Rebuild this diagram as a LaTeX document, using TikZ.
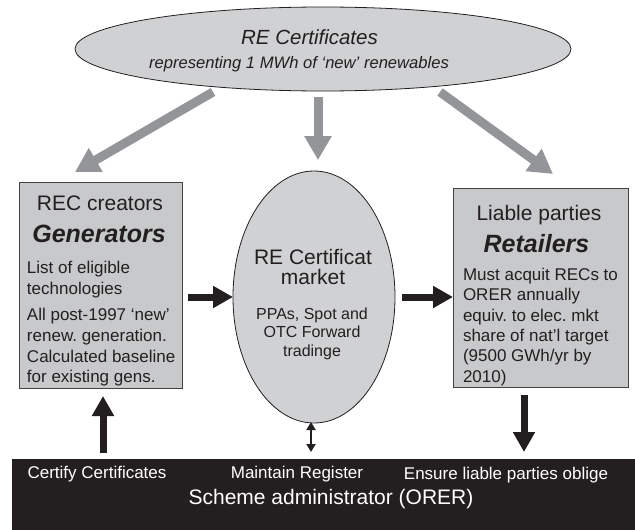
\documentclass[tikz,border=0pt]{standalone}
\usepackage{fontspec}
\setmainfont{Liberation Sans}
\usetikzlibrary{shapes.geometric,arrows.meta}
\definecolor{boxfill}{RGB}{200,201,203}
\definecolor{ellfill}{RGB}{208,209,211}
\definecolor{arrgray}{RGB}{147,149,152}
\definecolor{ink}{RGB}{35,31,32}
\tikzset{
  txt/.style={inner sep=0pt, outer sep=0pt, text=ink},
  body/.style={txt, font=\fontsize{17}{17}\selectfont, anchor=base west},
  title/.style={txt, font=\fontsize{21}{21}\selectfont, anchor=base},
  bold/.style={txt, font=\fontsize{25}{25}\selectfont\bfseries\itshape, anchor=base},
  mtext/.style={txt, font=\fontsize{16}{16}\selectfont, anchor=base},
  bandtext/.style={inner sep=0pt, outer sep=0pt, text=white, font=\fontsize{17}{17}\selectfont, anchor=base},
  panel/.style={draw=ink!85, line width=0.8pt, fill=boxfill, inner sep=0pt, outer sep=0pt},
  oval/.style={ellipse, draw=ink, line width=0.8pt, fill=ellfill, inner sep=0pt, outer sep=0pt},
  grayarrow/.style={draw=arrgray, line width=9pt, -{Triangle[width=26pt,length=24pt]}},
  blackarrow/.style={draw=ink, line width=7pt, -{Triangle[width=21pt,length=20pt]}},
  thinarrow/.style={draw=ink, line width=2pt, {Triangle[width=9pt,length=8pt]}-{Triangle[width=9pt,length=8pt]}},
}
\begin{document}
\begin{tikzpicture}[x=1pt,y=-1pt]
\useasboundingbox (0,0) rectangle (635,530);

% top ellipse
\node[oval, minimum width=496pt, minimum height=84pt] (cert) at (323,49) {};
\node[txt, font=\fontsize{20.5}{20.5}\selectfont\itshape, anchor=base] (certA) at (309.5,45) {RE Certificates};
\node[txt, font=\fontsize{16.6}{16.6}\selectfont\itshape, anchor=base] (certB) at (299,68) {representing 1 MWh of ‘new’ renewables};

% gray arrows
\coordinate (gL1) at (213,92);  \coordinate (gL2) at (75,172);
\coordinate (gM1) at (318,97);  \coordinate (gM2) at (318,160);
\coordinate (gR1) at (440,92);  \coordinate (gR2) at (553,174);
\draw[grayarrow] (gL1) -- (gL2);
\draw[grayarrow] (gM1) -- (gM2);
\draw[grayarrow] (gR1) -- (gR2);

% left box
\node[panel, minimum width=163pt, minimum height=206pt] (gen) at (100.5,285) {};
\node[title] (genA) at (100,210.5) {REC creators};
\node[bold] (genB) at (99,242) {Generators};
\node[body] (gen1) at (27,273) {List of eligible};
\node[body] (gen2) at (27,294) {technologies};
\node[body] (gen3) at (27,320) {All post-1997 ‘new’};
\node[body] (gen4) at (27,341) {renew.\ generation.};
\node[body] (gen5) at (27,362) {Calculated baseline};
\node[body] (gen6) at (27,382.5) {for existing gens.};

% market ellipse
\node[oval, minimum width=162pt, minimum height=252pt] (mkt) at (314,297) {};
\node[title] (mktA) at (313,264.5) {RE Certificat};
\node[title] (mktB) at (313,284.5) {market};
\node[mtext] (mkt1) at (312,319) {PPAs, Spot and};
\node[mtext] (mkt2) at (312,337.7) {OTC Forward};
\node[mtext] (mkt3) at (312,356.4) {tradinge};

% right box
\node[panel, minimum width=175pt, minimum height=199pt] (ret) at (540.5,287.5) {};
\node[title] (retA) at (539,220.5) {Liable parties};
\node[bold] (retB) at (536.5,252) {Retailers};
\node[body] (ret1) at (463,280.5) {Must acquit RECs to};
\node[body] (ret2) at (463,300.8) {ORER annually};
\node[body] (ret3) at (463,321.1) {equiv.\ to elec.\ mkt};
\node[body] (ret4) at (463,341.4) {share of nat’l target};
\node[body] (ret5) at (463,361.7) {(9500 GWh/yr by};
\node[body] (ret6) at (463,382) {2010)};

% administrator band
\node[fill=ink, draw=none, inner sep=0pt, outer sep=0pt, minimum width=623pt, minimum height=71pt] (adm) at (323.5,494.5) {};
\node[bandtext] (admA) at (97,478.3) {Certify Certificates};
\node[bandtext] (admB) at (297,478.3) {Maintain Register};
\node[bandtext] (admC) at (506,479) {Ensure liable parties oblige};
\node[bandtext, font=\fontsize{21}{21}\selectfont] (admD) at (331,504) {Scheme administrator (ORER)};

% black arrows
\draw[blackarrow, shorten <=6pt] (gen.east |- mkt.west) -- (mkt.west);
\draw[blackarrow, shorten <=7pt] (mkt.east) -- (ret.west |- mkt.east);
\coordinate (upB) at (103,453); \coordinate (upT) at (103,396);
\draw[blackarrow] (upB) -- (upT);
\coordinate (dnT) at (524,395); \coordinate (dnB) at (524,452);
\draw[blackarrow] (dnT) -- (dnB);
\coordinate (dbT) at (311,422); \coordinate (dbB) at (311,452);
\draw[thinarrow] (dbT) -- (dbB);
\end{tikzpicture}
\end{document}
